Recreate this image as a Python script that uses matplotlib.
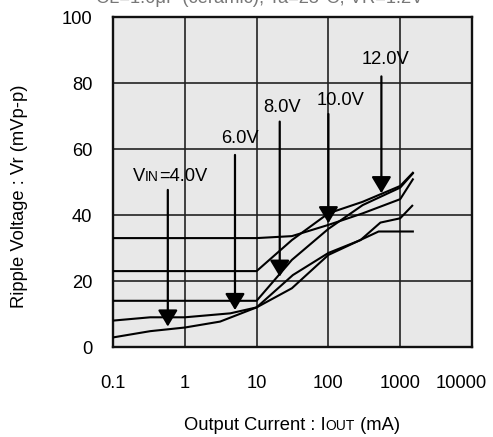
import numpy as np
import matplotlib
matplotlib.use("Agg")
import matplotlib.pyplot as plt
import matplotlib.transforms as mtransforms
from matplotlib.offsetbox import TextArea, HPacker, AnnotationBbox

plt.rcParams['font.family'] = ['Liberation Sans', 'DejaVu Sans']

# ripple voltage (mVp-p) vs output current (mA), one polyline per input voltage
vin4_x = [0.1, 0.33, 1, 3.1, 10, 31, 100, 500, 1500]
vin4_y = [2.9, 4.8, 5.9, 7.7, 12.0, 17.8, 27.9, 35.0, 35.0]
vin6_x = [0.1, 0.33, 1, 4.3, 10, 32, 100, 280, 530, 1000, 1470]
vin6_y = [8.0, 9.0, 9.0, 10.2, 12.0, 21.8, 28.5, 32.4, 37.7, 39.0, 42.8]
vin8_x = [0.1, 10, 31, 100, 300, 1000, 1500]
vin8_y = [14.0, 14.0, 26.4, 35.8, 43.0, 48.3, 52.6]
vin10_x = [0.1, 10, 31, 100, 300, 1000, 1500]
vin10_y = [23.0, 23.0, 32.4, 40.5, 44.0, 48.8, 52.8]
vin12_x = [0.1, 10, 31, 100, 300, 1000, 1500]
vin12_y = [33.0, 33.0, 33.6, 37.0, 40.5, 44.8, 50.8]

# arrow labels: (label, arrow x, shaft top y, tip y, text x, text y)
arrow_labels = ['6.0V', '8.0V', '10.0V', '12.0V']
arrow_x = [5.0, 21, 100, 547]
arrow_top = [58.2, 68.3, 70.6, 82.0]
arrow_tip = [11.2, 21.3, 37.5, 46.6]
text_x = [5.9, 22.7, 147, 617]
text_y = [63.3, 72.5, 74.8, 87.0]

vin4_arrow = (0.58, 47.6, 6.2)
vin4_text = (0.62, 51.6)

x_ticks = [0.1, 1, 10, 100, 1000, 10000]
x_tick_labels = ['0.1', '1', '10', '100', '1000', '10000']
y_ticks = [0, 20, 40, 60, 80, 100]

FS = 13.2

fig = plt.figure(figsize=(4.93, 4.37), dpi=100)
ax = fig.add_axes([113 / 493, 90 / 437, 359 / 493, 330 / 437])
ax.set_facecolor('#e8e8e8')

ax.set_xscale('log')
ax.set_xlim(0.1, 10000)
ax.set_ylim(0, 100)
ax.set_xticks(x_ticks)
ax.set_xticklabels(x_tick_labels)
ax.set_yticks(y_ticks)
ax.minorticks_off()
ax.tick_params(length=0, labelsize=FS)
ax.tick_params(axis='x', pad=20)
ax.tick_params(axis='y', pad=15)
ax.grid(True, color='#222222', lw=1.2)
ax.set_axisbelow(True)
for s in ax.spines.values():
    s.set_linewidth(1.7)
    s.set_color('#111111')

# last x label sits a little left so it stays inside the picture
last = ax.get_xticklabels()[-1]
last.set_transform(last.get_transform() + mtransforms.ScaledTranslation(-8 / 72, 0, fig.dpi_scale_trans))

for xs, ys in [(vin4_x, vin4_y), (vin6_x, vin6_y), (vin8_x, vin8_y),
               (vin10_x, vin10_y), (vin12_x, vin12_y)]:
    ax.plot(xs, ys, color='black', lw=1.5, zorder=3)

arrow_style = dict(arrowstyle='-|>,head_length=0.5,head_width=0.3',
                   mutation_scale=20, lw=1.6, color='black',
                   shrinkA=0, shrinkB=0)

for lab, xa, top, tip, tx, ty in zip(arrow_labels, arrow_x, arrow_top,
                                     arrow_tip, text_x, text_y):
    ax.annotate('', xy=(xa, tip), xytext=(xa, top), arrowprops=arrow_style, zorder=4)
    ax.text(tx, ty, lab, ha='center', va='center', fontsize=FS, zorder=5)

ax.annotate('', xy=(vin4_arrow[0], vin4_arrow[2]), xytext=(vin4_arrow[0], vin4_arrow[1]),
            arrowprops=arrow_style, zorder=4)


def small_caps(parts, xy, coords):
    boxes = [TextArea(t, textprops=dict(size=sz)) for t, sz in parts]
    pack = HPacker(children=boxes, align='baseline', pad=0, sep=0)
    ab = AnnotationBbox(pack, xy, xycoords=coords, frameon=False,
                        box_alignment=(0.5, 0.5), pad=0)
    return ab


ax.add_artist(small_caps([('V', FS), ('IN', 10), ('=4.0V', FS)],
                         vin4_text, 'data'))

fig.add_artist(small_caps([('Output Current : I', FS), ('OUT', 10), (' (mA)', FS)],
                          (292 / 493, 1 - 425 / 437), 'figure fraction'))

fig.text(20 / 493, 1 - 196 / 437, 'Ripple Voltage : Vr (mVp-p)', rotation=90,
         ha='center', va='center', fontsize=FS)

# condition line, mostly cut off at the top edge as in the reference
fig.text(260 / 493, 1 - 3 / 437, 'CL=1.0\u03bcF (ceramic), Ta=25\u00b0C, VR=1.2V',
         ha='center', va='baseline', fontsize=FS, color='#777777')

fig.savefig('out.png', dpi=100)
